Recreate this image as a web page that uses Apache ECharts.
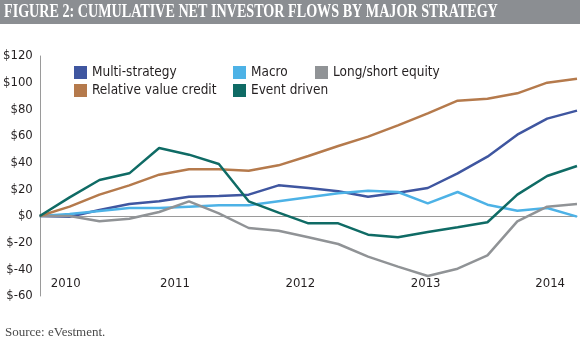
<!DOCTYPE html>
<html>
<head>
<meta charset="utf-8">
<script src="https://cdn.jsdelivr.net/npm/echarts@6/dist/echarts.min.js"></script>
<style>html,body{margin:0;padding:0;background:#fff}#c{width:580px;height:358px}</style>
</head>
<body>
<div id="c"></div>
<script>
// Quarterly points, Q4 2009 .. Q2 2014
const quarters = ['Q4 09','Q1 10','Q2 10','Q3 10','Q4 10','Q1 11','Q2 11','Q3 11','Q4 11','Q1 12','Q2 12','Q3 12','Q4 12','Q1 13','Q2 13','Q3 13','Q4 13','Q1 14','Q2 14'];
const multiStrategy = [0,-0.5,4.5,9,11,14.5,15,16,23,21,18.5,14.5,17.5,21,32,44.5,61,73,79];
const macro = [0,1.5,3.7,6,6,7,8,8,11,14,17,19,18,9.5,18,8.5,4,6,-0.5];
const longShort = [0,0,-4,-2,3,11,2,-9,-11,-16,-21,-30.5,-38,-45,-39.5,-29.5,-4,7,9];
const relValueCredit = [0,7,16,23,31,35,35,34,38,45,52.5,59.5,68,77,86.5,88,92,100,103];
const eventDriven = [0,14,27,32,51,46,39,11,2.5,-5.5,-5.5,-14,-16,-12,-8.5,-4.7,16,30,37.5];
const yearLabels = ['2010','2011','2012','2013','2014'];
const yearPositions = [0.87,4.53,8.73,12.93,17.1];
const yTicks = {min:-60,max:120,interval:20};

const colors = {
  'Multi-strategy':'#3f56a0',
  'Macro':'#4db2e6',
  'Long/short equity':'#909396',
  'Relative value credit':'#b57a4c',
  'Event driven':'#0f6b65'
};
const seriesDefs = [
  ['Multi-strategy', multiStrategy],
  ['Macro', macro],
  ['Long/short equity', longShort],
  ['Relative value credit', relValueCredit],
  ['Event driven', eventDriven]
];
const narrow = "'Liberation Sans Narrow','DejaVu Sans Condensed',sans-serif";
const legendPos = {
  'Multi-strategy':[74,65],
  'Macro':[233,65],
  'Long/short equity':[315,65],
  'Relative value credit':[74,83],
  'Event driven':[233,83]
};
const legends = seriesDefs.map(([n]) => ({
  data:[n], left:legendPos[n][0], top:legendPos[n][1], padding:0,
  icon:'rect', itemWidth:13, itemHeight:13, itemGap:5,
  selectedMode:false,
  textStyle:{fontFamily:narrow, fontSize:13.5, color:'#231f20', lineHeight:15}
}));

const chart = echarts.init(document.getElementById('c'), null, {renderer:'canvas'});
chart.setOption({
  animation:false,
  legend: legends,
  grid:{left:37, right:3, top:56, bottom:62, containLabel:false},
  xAxis:[
    {type:'category', data:quarters, boundaryGap:false,
     axisLine:{onZero:true, lineStyle:{color:'#9a9a9a', width:1}},
     axisTick:{show:false}, axisLabel:{show:false}, splitLine:{show:false}},
    {type:'value', min:0, max:18, position:'bottom',
     axisLine:{show:false}, axisTick:{show:false}, splitLine:{show:false},
     axisLabel:{customValues:yearPositions, margin:-19,
       fontFamily:narrow, fontSize:13, color:'#231f20',
       formatter:(v)=>{const i=yearPositions.indexOf(v);return i>=0?yearLabels[i]:'';}}}
  ],
  yAxis:{type:'value', min:yTicks.min, max:yTicks.max, interval:yTicks.interval,
    axisLine:{show:true, onZero:false, lineStyle:{color:'#9a9a9a', width:1}},
    axisTick:{show:false}, splitLine:{show:false},
    axisLabel:{margin:7, fontFamily:narrow, fontSize:13, color:'#231f20', formatter:(v)=>'$'+v}},
  series: seriesDefs.map(([n,d]) => ({
    name:n, type:'line', data:d, xAxisIndex:0, symbol:'none',
    lineStyle:{color:colors[n], width:2.5}, itemStyle:{color:colors[n]}
  })),
  graphic:[
    {type:'rect', left:0, top:0, shape:{width:580, height:24}, style:{fill:'#8b8e92'}},
    {type:'text', x:4, y:12, scaleX:0.785,
     style:{text:'FIGURE 2: CUMULATIVE NET INVESTOR FLOWS BY MAJOR STRATEGY', fill:'#ffffff',
       font:"bold 18px 'Liberation Serif', serif", verticalAlign:'middle', align:'left'}},
    {type:'text', x:5, y:333,
     style:{text:'Source: eVestment.', fill:'#4a4a4a',
       font:"13px 'Liberation Serif', serif", verticalAlign:'middle', align:'left'}}
  ]
});
</script>
</body>
</html>
